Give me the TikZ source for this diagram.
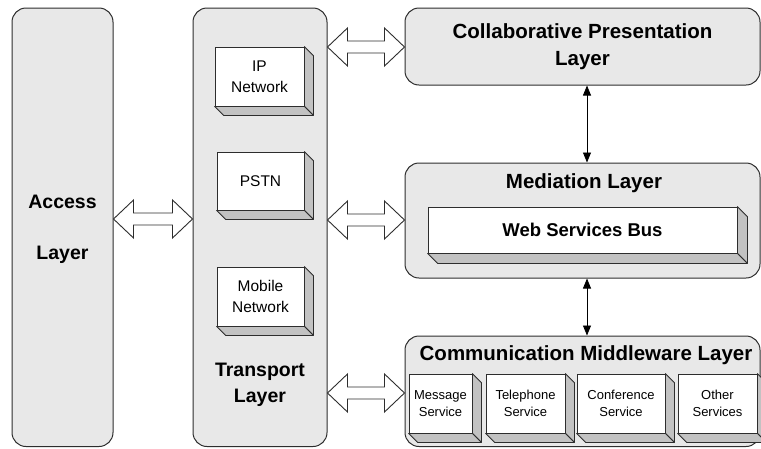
\documentclass[tikz,border=0pt]{standalone}
\usepackage{fontspec}
\setmainfont{Liberation Sans}
\usetikzlibrary{arrows.meta,calc}
\definecolor{layerfill}{RGB}{232,232,232}
\definecolor{sidefill}{RGB}{194,194,194}
\definecolor{edge}{RGB}{45,45,45}
\tikzset{
  layer/.style={draw=edge, line width=1pt, fill=layerfill, rounded corners=14pt, inner sep=0pt, align=center},
  front/.style={draw=edge, line width=0.8pt, fill=white, inner sep=0pt, align=center},
  side/.style={draw=edge, line width=0.8pt, fill=sidefill, line join=round},
  hollowarr/.style={draw=edge, line width=0.9pt, fill=white, line join=miter},
  thinarrow/.style={draw=black, line width=0.8pt, {Triangle[length=10pt,width=8pt]}-{Triangle[length=10pt,width=8pt]}},
  bigtxt/.style={font=\fontsize{19.5}{26}\selectfont\bfseries, align=center},
  headtxt/.style={font=\fontsize{20.5}{27}\selectfont\bfseries, align=center},
  midtxt/.style={font=\fontsize{15.5}{21}\selectfont},
  smalltxt/.style={font=\fontsize{13}{17}\selectfont},
}
\newcommand\boxsides[2]{%
  \draw[side] (#1.north east) -- ++(#2,#2) -- ([shift={(#2,#2)}]#1.south east) -- (#1.south east) -- cycle;
  \draw[side] (#1.south west) -- (#1.south east) -- ([shift={(#2,#2)}]#1.south east) -- ([shift={(#2,#2)}]#1.south west) -- cycle;}
\newcommand\harrow[2]{%
  \draw[hollowarr] let \p1=(#1), \p2=(#2) in
    (\p1) -- (\x1+20pt,\y1+19pt) -- (\x1+20pt,\y1+6pt) -- (\x2-20pt,\y1+6pt) -- (\x2-20pt,\y1+19pt)
    -- (\p2) -- (\x2-20pt,\y1-19pt) -- (\x2-20pt,\y1-6pt) -- (\x1+20pt,\y1-6pt) -- (\x1+20pt,\y1-19pt) -- cycle;}
\begin{document}
\begin{tikzpicture}[x=1pt,y=-1pt]
\useasboundingbox (0,0) rectangle (761,448);
\clip (0,0) rectangle (761,448);

% layer boxes
\node[layer, minimum width=101pt, minimum height=438.5pt] (acc) at (62.5,227.25) {};
\node[bigtxt] (acctext) at (62.5,229) {Access\\[25pt]Layer};
\node[layer, minimum width=134pt, minimum height=438.5pt] (tr) at (260,227.25) {};
\node[bigtxt] (trtext) at (260,385) {Transport\\Layer};

\node[layer, headtxt, minimum width=355pt, minimum height=77pt] (collab) at (582.5,46.5) {Collaborative Presentation\\Layer};
\node[layer, minimum width=355pt, minimum height=115pt] (med) at (582.5,220.5) {};
\node[headtxt] (medtext) at (584,183) {Mediation Layer};
\node[layer, minimum width=355pt, minimum height=110.5pt] (comm) at (582.5,391.25) {};
\node[headtxt] (commtext) at (586,355) {Communication Middleware Layer};

% transport networks
\node[front, midtxt, minimum width=89pt, minimum height=59pt] (ip) at (259.5,76.5) {IP\\Network};
\boxsides{ip}{9}
\node[front, midtxt, minimum width=87pt, minimum height=58pt] (pstn) at (260.5,181) {PSTN};
\boxsides{pstn}{9}
\node[front, midtxt, minimum width=87pt, minimum height=59pt] (mob) at (260.5,296.5) {Mobile\\Network};
\boxsides{mob}{9}

% bus
\node[front, font=\fontsize{18.5}{22}\selectfont\bfseries, minimum width=309pt, minimum height=46pt] (bus) at (582.5,230) {Web Services Bus};
\boxsides{bus}{10}

% services
\node[front, smalltxt, minimum width=63pt, minimum height=59pt] (msg) at (440.5,403.5) {Message\\Service};
\boxsides{msg}{9}
\node[front, smalltxt, minimum width=79pt, minimum height=59pt] (tel) at (525.5,403.5) {Telephone\\Service};
\boxsides{tel}{9}
\node[front, smalltxt, minimum width=88pt, minimum height=59pt] (conf) at (621,403.5) {Conference\\Service};
\boxsides{conf}{9}
\node[front, smalltxt, minimum width=79pt, minimum height=59pt] (oth) at (717.5,403.5) {Other\\Services};
\boxsides{oth}{9}

% hollow double arrows
\coordinate (a1) at (acc.east |- 0,219);
\coordinate (a2) at (tr.west |- 0,219);
\harrow{a1}{a2}
\coordinate (b1) at (tr.east |- 0,47);
\coordinate (b2) at (collab.west |- 0,47);
\harrow{b1}{b2}
\coordinate (c1) at (tr.east |- 0,220);
\coordinate (c2) at (med.west |- 0,220);
\harrow{c1}{c2}
\coordinate (d1) at (tr.east |- 0,393);
\coordinate (d2) at (comm.west |- 0,393);
\harrow{d1}{d2}

% thin vertical arrows
\draw[thinarrow] ([xshift=4.5pt]collab.south) -- ([xshift=4.5pt]med.north);
\draw[thinarrow] ([xshift=4.5pt]med.south) -- ([xshift=4.5pt]comm.north);
\end{tikzpicture}
\end{document}
